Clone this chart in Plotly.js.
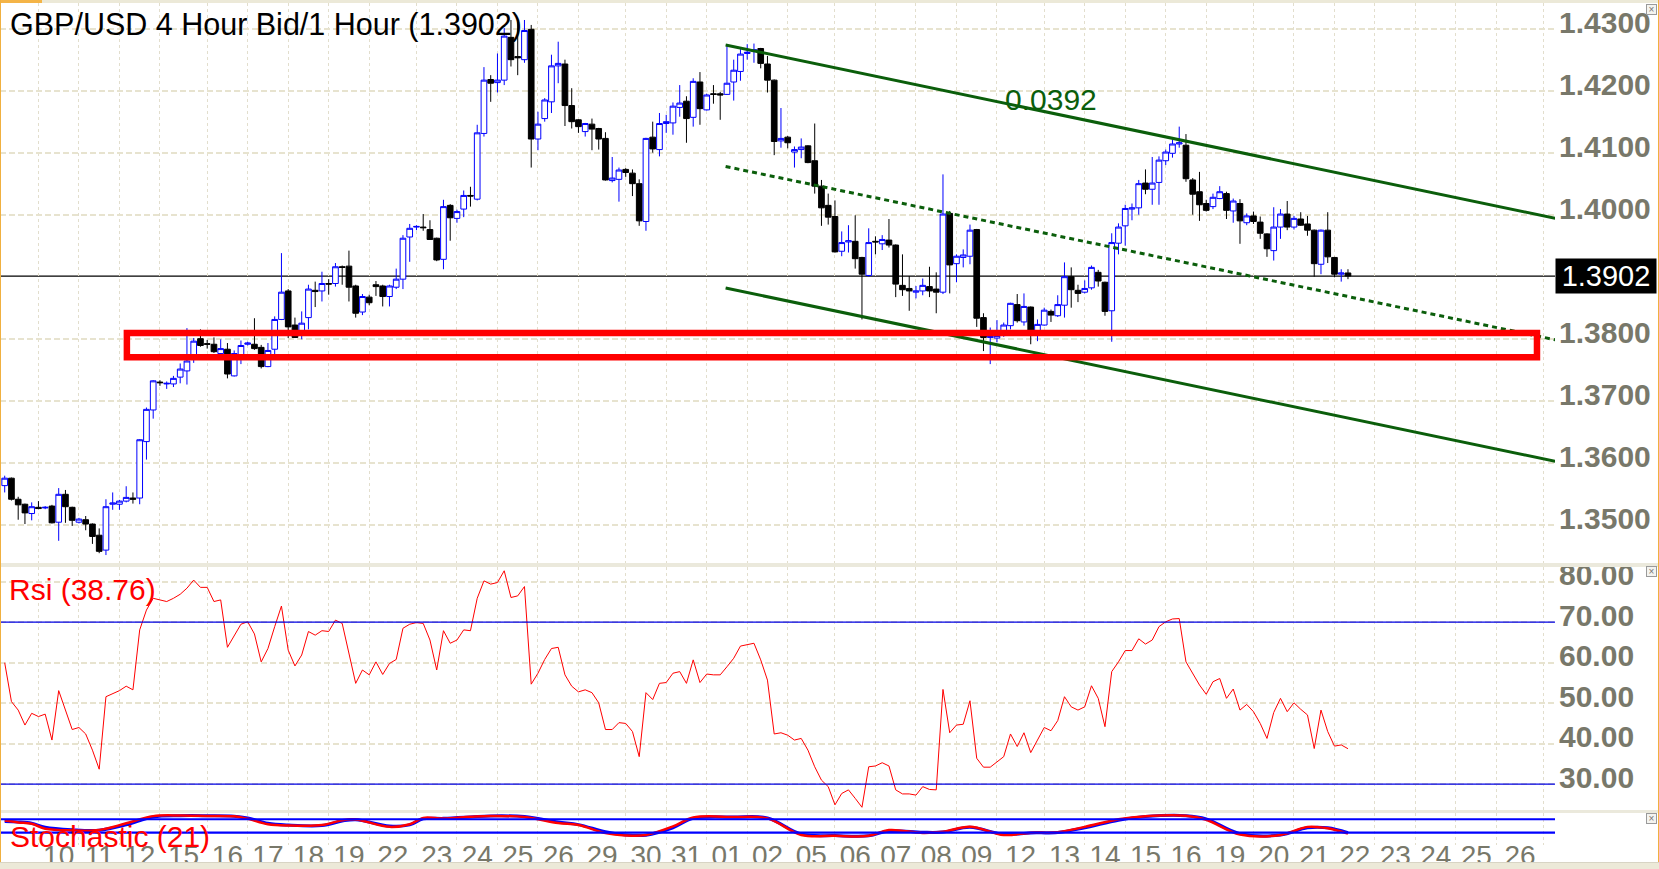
<!DOCTYPE html>
<html>
<head>
<meta charset="utf-8">
<script src="https://cdn.plot.ly/plotly-3.0.1.min.js"></script>
<style>
html,body{margin:0;padding:0;background:#fff;overflow:hidden;width:1659px;height:869px;}
#chart{position:absolute;left:0;top:0;width:1659px;height:869px;}
.ov{position:absolute;z-index:10;}
</style>
</head>
<body>
<div id="chart"></div>
<div class="ov" style="left:0;top:0;width:1659px;height:3px;background:#ece9d8;"></div>
<div class="ov" style="left:0;top:0;width:42px;height:3px;background:#f4b447;"></div>
<div class="ov" style="left:0;top:0;width:1px;height:869px;background:#f0b040;"></div>
<div class="ov" style="left:1658px;top:0;width:1px;height:869px;background:#f0b040;"></div>
<div class="ov" style="left:0;top:862px;width:1659px;height:7px;background:#ece9d8;border-top:1px solid #d8d4c4;"></div>
<script>
// ---- price data (4 hour candles) ----
const open = [1.3564,1.3576,1.3542,1.3534,1.3519,1.3529,1.3528,1.3531,1.3505,1.3550,
1.3529,1.3505,1.3509,1.3502,1.3484,1.3460,1.3534,1.3534,1.3539,1.3544,
1.3544,1.3635,1.3686,1.3731,1.3728,1.3728,1.3739,1.3749,1.3775,1.3801,
1.3793,1.3792,1.3777,1.3784,1.3741,1.3769,1.3792,1.3792,1.3787,1.3756,
1.3784,1.3832,1.3878,1.3823,1.3810,1.3835,1.3879,1.3878,1.3890,1.3890,
1.3917,1.3918,1.3886,1.3844,1.3868,1.3888,1.3886,1.3869,1.3884,1.3897,
1.3965,1.3981,1.3981,1.3977,1.3963,1.3929,1.4016,1.3995,1.4010,1.4032,
1.4026,1.4132,1.4219,1.4214,1.4218,1.4287,1.4256,1.4251,1.4300,1.4123,
1.4156,1.4183,1.4241,1.4244,1.4177,1.4154,1.4135,1.4147,1.4140,1.4124,
1.4056,1.4058,1.4074,1.4068,1.4051,1.3990,1.4126,1.4106,1.4148,1.4149,
1.4174,1.4184,1.4158,1.4215,1.4170,1.4196,1.4196,1.4195,1.4215,1.4232,
1.4261,1.4265,1.4269,1.4244,1.4218,1.4120,1.4126,1.4102,1.4106,1.4112,
1.4088,1.4047,1.4016,1.3998,1.3942,1.3957,1.3958,1.3932,1.3903,1.3958,
1.3954,1.3960,1.3952,1.3887,1.3882,1.3876,1.3878,1.3885,1.3881,1.3876,
1.4003,1.3922,1.3932,1.3934,1.3977,1.3835,1.3803,1.3802,1.3808,1.3822,
1.3856,1.3828,1.3852,1.3813,1.3823,1.3845,1.3838,1.3855,1.3901,1.3879,
1.3876,1.3883,1.3908,1.3892,1.3846,1.3955,1.3983,1.4010,1.4012,1.4052,
1.4042,1.4053,1.4088,1.4100,1.4115,1.4113,1.4057,1.4038,1.4019,1.4014,
1.4027,1.4035,1.4007,1.4019,1.3988,1.3999,1.3989,1.3970,1.3943,1.3981,
1.4002,1.3981,1.3994,1.3986,1.3976,1.3921,1.3976,1.3932,1.3905,1.3907];
const high = [1.3580,1.3577,1.3546,1.3535,1.3537,1.3539,1.3531,1.3533,1.3560,1.3557,
1.3530,1.3512,1.3515,1.3503,1.3495,1.3542,1.3553,1.3541,1.3563,1.3553,
1.3639,1.3690,1.3734,1.3734,1.3732,1.3741,1.3761,1.3818,1.3802,1.3816,
1.3799,1.3803,1.3800,1.3794,1.3782,1.3798,1.3796,1.3834,1.3791,1.3794,
1.3837,1.3939,1.3881,1.3835,1.3845,1.3888,1.3893,1.3909,1.3897,1.3923,
1.3919,1.3943,1.3888,1.3873,1.3872,1.3894,1.3888,1.3888,1.3914,1.3968,
1.3986,1.3984,1.4002,1.3992,1.3964,1.4025,1.4018,1.4009,1.4040,1.4046,
1.4146,1.4239,1.4226,1.4261,1.4302,1.4315,1.4312,1.4315,1.4307,1.4167,
1.4189,1.4259,1.4280,1.4251,1.4205,1.4155,1.4149,1.4156,1.4141,1.4134,
1.4094,1.4077,1.4076,1.4074,1.4058,1.4125,1.4151,1.4165,1.4162,1.4182,
1.4210,1.4192,1.4221,1.4231,1.4196,1.4210,1.4199,1.4273,1.4251,1.4268,
1.4276,1.4277,1.4270,1.4257,1.4219,1.4173,1.4128,1.4111,1.4124,1.4113,
1.4148,1.4057,1.4035,1.4024,1.3974,1.3984,1.4000,1.3933,1.3979,1.3966,
1.3968,1.3994,1.3953,1.3937,1.3902,1.3886,1.3898,1.3917,1.3908,1.4066,
1.4007,1.3937,1.3945,1.3985,1.3978,1.3842,1.3819,1.3831,1.3827,1.3859,
1.3873,1.3874,1.3853,1.3832,1.3851,1.3848,1.3871,1.3924,1.3916,1.3888,
1.3895,1.3919,1.3912,1.3893,1.3971,1.3987,1.4017,1.4019,1.4057,1.4074,
1.4094,1.4095,1.4106,1.4122,1.4143,1.4131,1.4060,1.4070,1.4025,1.4035,
1.4047,1.4038,1.4027,1.4026,1.4003,1.4006,1.3998,1.3971,1.4013,1.4010,
1.4023,1.3999,1.4005,1.3999,1.3977,1.3977,1.4005,1.3933,1.3913,1.3913];
const low = [1.3553,1.3540,1.3509,1.3502,1.3508,1.3526,1.3526,1.3503,1.3475,1.3504,
1.3499,1.3503,1.3492,1.3470,1.3455,1.3452,1.3525,1.3525,1.3537,1.3535,
1.3534,1.3606,1.3672,1.3725,1.3720,1.3723,1.3729,1.3727,1.3762,1.3788,
1.3785,1.3778,1.3776,1.3737,1.3740,1.3760,1.3790,1.3783,1.3753,1.3755,
1.3775,1.3831,1.3802,1.3802,1.3800,1.3816,1.3852,1.3861,1.3872,1.3885,
1.3888,1.3861,1.3835,1.3839,1.3855,1.3870,1.3853,1.3853,1.3881,1.3881,
1.3925,1.3976,1.3975,1.3961,1.3926,1.3913,1.3959,1.3988,1.3997,1.4014,
1.4024,1.4127,1.4183,1.4198,1.4210,1.4240,1.4226,1.4246,1.4077,1.4105,
1.4151,1.4165,1.4213,1.4144,1.4140,1.4133,1.4127,1.4105,1.4106,1.4056,
1.4053,1.4022,1.4062,1.4031,1.3983,1.3975,1.4101,1.4095,1.4133,1.4130,
1.4159,1.4117,1.4143,1.4146,1.4169,1.4180,1.4154,1.4194,1.4185,1.4217,
1.4251,1.4246,1.4237,1.4198,1.4097,1.4109,1.4108,1.4077,1.4092,1.4084,
1.4035,1.3983,1.3985,1.3940,1.3934,1.3940,1.3914,1.3832,1.3901,1.3937,
1.3944,1.3948,1.3868,1.3870,1.3846,1.3866,1.3871,1.3868,1.3842,1.3873,
1.3874,1.3892,1.3916,1.3921,1.3820,1.3781,1.3760,1.3795,1.3804,1.3816,
1.3827,1.3822,1.3792,1.3797,1.3822,1.3828,1.3836,1.3835,1.3851,1.3860,
1.3874,1.3880,1.3885,1.3838,1.3796,1.3937,1.3951,1.3992,1.4001,1.4034,
1.4017,1.4017,1.4081,1.4093,1.4109,1.4054,1.4001,1.3991,1.4006,1.4010,
1.4026,1.3994,1.3988,1.3954,1.3984,1.3986,1.3962,1.3933,1.3927,1.3962,
1.3976,1.3977,1.3983,1.3967,1.3901,1.3905,1.3923,1.3900,1.3893,1.3897];
const close = [1.3576,1.3542,1.3533,1.3520,1.3530,1.3527,1.3529,1.3504,1.3550,1.3530,
1.3508,1.3510,1.3502,1.3482,1.3458,1.3530,1.3536,1.3539,1.3545,1.3542,
1.3638,1.3687,1.3733,1.3730,1.3729,1.3737,1.3752,1.3765,1.3797,1.3790,
1.3792,1.3780,1.3785,1.3744,1.3777,1.3790,1.3794,1.3785,1.3756,1.3782,
1.3832,1.3876,1.3820,1.3803,1.3826,1.3881,1.3877,1.3890,1.3889,1.3917,
1.3916,1.3884,1.3842,1.3869,1.3859,1.3885,1.3869,1.3886,1.3897,1.3963,
1.3979,1.3982,1.3980,1.3961,1.3928,1.4014,1.3996,1.4006,1.4032,1.4031,
1.4133,1.4218,1.4213,1.4218,1.4289,1.4251,1.4254,1.4298,1.4123,1.4147,
1.4186,1.4241,1.4245,1.4177,1.4151,1.4143,1.4148,1.4139,1.4123,1.4057,
1.4060,1.4073,1.4069,1.4051,1.3991,1.4124,1.4107,1.4148,1.4151,1.4176,
1.4181,1.4156,1.4216,1.4172,1.4194,1.4195,1.4194,1.4213,1.4234,1.4260,
1.4263,1.4267,1.4245,1.4218,1.4119,1.4124,1.4117,1.4106,1.4110,1.4085,
1.4047,1.4012,1.3997,1.3941,1.3956,1.3959,1.3930,1.3905,1.3956,1.3957,
1.3961,1.3952,1.3889,1.3880,1.3878,1.3878,1.3887,1.3878,1.3876,1.4002,
1.3920,1.3934,1.3936,1.3976,1.3834,1.3803,1.3805,1.3806,1.3823,1.3858,
1.3830,1.3853,1.3813,1.3824,1.3847,1.3839,1.3856,1.3901,1.3880,1.3874,
1.3882,1.3916,1.3894,1.3845,1.3956,1.3981,1.4011,1.4012,1.4051,1.4042,
1.4052,1.4089,1.4102,1.4115,1.4117,1.4059,1.4034,1.4017,1.4008,1.4029,
1.4038,1.4008,1.4023,1.3991,1.3999,1.3990,1.3971,1.3946,1.3981,1.4002,
1.3981,1.3995,1.3984,1.3976,1.3922,1.3976,1.3933,1.3905,1.3907,1.3902];

// ---- RSI values ----
const rsi = [60.0,50.4,48.3,44.6,47.5,46.7,47.3,40.9,53.1,48.3,
43.5,44.0,42.4,38.4,33.7,51.6,52.3,53.1,54.2,53.3,
68.1,73.0,75.9,75.5,75.1,75.9,76.9,78.4,80.4,78.6,
78.6,75.1,75.5,63.8,66.8,69.5,70.1,67.1,60.2,63.5,
68.9,74.0,63.1,59.2,61.9,67.7,66.8,67.9,67.7,70.5,
69.7,62.3,54.9,58.2,57.0,60.2,57.1,59.8,60.8,68.5,
69.5,69.9,69.7,65.6,58.2,67.9,64.8,65.6,68.1,67.9,
75.9,80.2,79.4,79.8,82.7,76.1,76.5,78.8,54.7,57.4,
60.8,63.5,63.8,57.0,54.2,52.8,53.3,52.6,50.1,43.5,
43.5,45.2,45.0,43.0,36.8,52.6,50.9,54.9,55.1,57.4,
57.8,54.9,60.7,55.1,57.2,57.0,57.0,59.0,61.1,64.1,
64.4,64.8,60.7,55.7,42.4,42.7,42.1,40.9,41.3,38.4,
34.3,31.0,29.4,24.9,27.7,28.6,26.5,24.3,34.3,34.5,
35.3,34.5,28.6,27.6,27.6,27.3,29.4,28.7,28.6,53.4,
42.7,44.6,44.8,50.6,36.4,34.2,34.2,35.6,36.8,42.4,
39.3,42.7,37.8,40.9,44.0,43.2,45.7,51.6,49.1,48.3,
49.1,54.3,51.2,44.2,57.8,60.2,63.0,63.0,65.9,64.6,
65.6,68.9,70.1,70.8,70.9,60.2,57.4,54.5,52.2,55.3,
56.1,51.2,53.5,48.3,49.7,47.9,45.0,41.3,47.7,51.2,
47.9,50.1,48.5,47.1,38.8,48.3,43.0,39.4,39.7,38.76];

// ---- Stochastic (21), read at these candle numbers ----
const stochAt = [1,3,5,7,11,15,19,23,27,31,35,37,40,43,48,51,53,58,61,63,66,70,73,78,83,86,90,93,96,100,103,109,114,119,124,129,132,137,140,144,149,153,157,161,166,170,176,179,184,190,194,197,200];
const stochK = [74,66,60,38,30,32,62,94,97,95,93,82,58,52,54,76,79,46,58,86,83,91,95,90,63,54,18,8,10,48,88,90,84,10,6,6,32,19,24,46,10,20,22,46,80,94,96,78,12,10,46,40,16];
const stochD = [70,68,62,44,33,31,55,90,96,96,94,86,62,54,52,72,78,50,55,82,84,90,95,92,68,56,24,10,9,42,84,90,86,14,7,6,28,22,23,44,13,19,21,42,76,92,96,82,16,10,42,42,20];

// ---- x axis: day labels and the candle number where each day starts ----
const dayLabels = ["10","11","12","15","16","17","18","19","22","23","24","25","26","29","30","31","01","02","05","06","07","08","09","12","13","14","15","16","19","20","21","22","23","24","25","26"];
const dayStarts = [6,12,18,24,31,37,43,49,55,62,68,74,80,86,93,99,105,111,117,124,130,136,142,148,155,161,167,173,179,186,192,198,204,210,216,222,229];

// ---- axis tick values (1.3900 sits under the last-price box) ----
const priceTicks = [1.35,1.36,1.37,1.38,1.40,1.41,1.42,1.43];
const priceTickText = ["1.3500","1.3600","1.3700","1.3800","1.4000","1.4100","1.4200","1.4300"];
const rsiTicks = [30,40,50,60,70,80];
const rsiTickText = ["30.00","40.00","50.00","60.00","70.00","80.00"];

// ---- drawn objects ----
const lastPrice = 1.3902;
const channelTop = [[107.8,1.42747],[230.7,1.39952]];
const channelWidth = 0.0392;
const supportZone = [[19.1,1.3771],[228.0,1.3810]];
const rsiLevels = [30,70];
const stochLevels = [20,80];

// ---------------------------------------------------------------
const idx = open.map((v,i)=>i+1);
const tickPos = dayLabels.map((l,i)=>(dayStarts[i]+dayStarts[i+1])/2);
const FONT = "Liberation Sans, Arial, sans-serif";
const AXC = "#78786a";
const GRID = "#e7e3cf";

const W = 1659, H = 869, ML = 0, MR = 104, MT = 3, MB = 24;
const PW = W-ML-MR, PH = H-MT-MB;
const py = p => (H-MB-p)/PH;       // pixel row -> paper y
const px = p => (p-ML)/PW;         // pixel col -> paper x

const traces = [
 {type:'candlestick', x:idx, open:open, high:high, low:low, close:close,
  xaxis:'x', yaxis:'y', whiskerwidth:0, hoverinfo:'skip',
  increasing:{line:{color:'#0000ff',width:1}, fillcolor:'#ffffff'},
  decreasing:{line:{color:'#000000',width:1}, fillcolor:'#000000'}},
 {type:'scatter', mode:'lines', x:idx, y:rsi, xaxis:'x', yaxis:'y2',
  line:{color:'#ff0000',width:1}, hoverinfo:'skip'},
 {type:'scatter', mode:'lines', x:stochAt, y:stochD, xaxis:'x', yaxis:'y3',
  line:{color:'#0000ff',width:3,shape:'spline'}, hoverinfo:'skip'},
 {type:'scatter', mode:'lines', x:stochAt, y:stochK, xaxis:'x', yaxis:'y3',
  line:{color:'#ff0000',width:2.5,shape:'spline'}, hoverinfo:'skip'}
];

const [c0,c1] = channelTop;
const shapes = [
 {type:'line', xref:'paper', x0:0, x1:1, yref:'y', y0:lastPrice, y1:lastPrice, line:{color:'#000',width:1.3}, layer:'between'},
 {type:'line', xref:'x', yref:'y', x0:c0[0], y0:c0[1], x1:c1[0], y1:c1[1], line:{color:'#0b5e0b',width:3}},
 {type:'line', xref:'x', yref:'y', x0:c0[0], y0:c0[1]-channelWidth/2, x1:c1[0], y1:c1[1]-channelWidth/2, line:{color:'#0b5e0b',width:3,dash:'5px,4px'}},
 {type:'line', xref:'x', yref:'y', x0:c0[0], y0:c0[1]-channelWidth, x1:c1[0], y1:c1[1]-channelWidth, line:{color:'#0b5e0b',width:3}},
 {type:'rect', xref:'x', yref:'y', x0:supportZone[0][0], y0:supportZone[0][1], x1:supportZone[1][0], y1:supportZone[1][1], line:{color:'#ff0000',width:6.5}, fillcolor:'rgba(0,0,0,0)', layer:'above'},
 ...rsiLevels.map(v=>({type:'line', xref:'paper', x0:0, x1:1, yref:'y2', y0:v, y1:v, line:{color:'#0000e6',width:1.2}})),
 ...stochLevels.map(v=>({type:'line', xref:'paper', x0:0, x1:1, yref:'y3', y0:v, y1:v, line:{color:'#0000ff',width:2.2}})),
 // panel separators
 {type:'rect', xref:'paper', yref:'paper', x0:0, x1:W/PW, y0:py(567), y1:py(563), fillcolor:'#ebe9dc', line:{width:0}, layer:'above'},
 {type:'rect', xref:'paper', yref:'paper', x0:0, x1:W/PW, y0:py(813), y1:py(810), fillcolor:'#ebe9dc', line:{width:0}, layer:'above'}
];

function closeBox(yPix){
 return {xref:'paper', yref:'paper', x:px(1651), y:py(yPix), text:'×', showarrow:false,
   font:{family:FONT,size:10,color:'#777'}, bordercolor:'#9a9a9a', borderwidth:1, borderpad:0,
   bgcolor:'#f4f4f0', width:9, height:9, xanchor:'center', yanchor:'middle'};
}

const annotations = [
 {xref:'paper', yref:'paper', x:px(8), y:py(25), xanchor:'left', yanchor:'middle', showarrow:false,
  text:'GBP/USD 4 Hour Bid/1 Hour (1.3902)', font:{family:FONT,size:30.5,color:'#000'}},
 {xref:'paper', yref:'paper', x:px(7), y:py(589), xanchor:'left', yanchor:'middle', showarrow:false,
  text:'Rsi (38.76)', font:{family:FONT,size:30,color:'#ff0000'}},
 {xref:'paper', yref:'paper', x:px(8), y:py(836), xanchor:'left', yanchor:'middle', showarrow:false,
  text:'Stochastic (21)', font:{family:FONT,size:30,color:'#ff0000'}},
 {xref:'x', yref:'y', x:156, y:1.4186, xanchor:'center', yanchor:'middle', showarrow:false,
  text:'0.0392', font:{family:FONT,size:30,color:'#0b5e0b'}},
 {xref:'paper', yref:'y', x:1, y:lastPrice, xanchor:'left', yanchor:'middle', showarrow:false,
  text:'1.3902', font:{family:FONT,size:29,color:'#ffffff'}, bgcolor:'#000000',
  width:98, height:32, borderpad:1, align:'center'},
 closeBox(9), closeBox(572), closeBox(818)
];

const layout = {
 width:W, height:H, margin:{l:ML,r:MR,t:MT,b:MB},
 paper_bgcolor:'#ffffff', plot_bgcolor:'#ffffff', showlegend:false,
 boxgap:0.16, boxgroupgap:0,
 font:{family:FONT},
 xaxis:{range:[0.304,230.67], anchor:'y3', rangeslider:{visible:false},
  tickmode:'array', tickvals:tickPos, ticktext:dayLabels, ticks:'', showgrid:false,
  tickfont:{family:FONT,size:28,color:AXC}, ticklabelstandoff:-9,
  zeroline:false, showline:false,
  minor:{tickmode:'array', tickvals:dayStarts, showgrid:true, gridcolor:'#e2decd', gridwidth:1, griddash:'dot', ticks:''}},
 yaxis:{domain:[py(563),py(3)], range:[1.34392,1.43424], side:'right', anchor:'x',
  tickmode:'array', tickvals:priceTicks, ticktext:priceTickText, ticks:'',
  tickfont:{family:FONT,size:30,color:AXC,weight:'bold'}, ticklabelshift:-7, ticklabelstandoff:3,
  showgrid:true, gridcolor:GRID, gridwidth:2, griddash:'6px,3px', zeroline:false, showline:false},
 yaxis2:{domain:[py(811),py(567)], range:[23.38,83.63], side:'right', anchor:'x',
  tickmode:'array', tickvals:rsiTicks, ticktext:rsiTickText, ticks:'',
  tickfont:{family:FONT,size:30,color:AXC,weight:'bold'}, ticklabelshift:-7, ticklabelstandoff:3,
  showgrid:true, gridcolor:GRID, gridwidth:2, griddash:'6px,3px', zeroline:false, showline:false},
 yaxis3:{domain:[0,py(813)], range:[-35,108], side:'right', anchor:'x',
  showticklabels:false, showgrid:false, zeroline:false, showline:false, ticks:''},
 shapes:shapes, annotations:annotations
};

Plotly.newPlot('chart', traces, layout, {displayModeBar:false, staticPlot:true});
</script>
</body>
</html>
